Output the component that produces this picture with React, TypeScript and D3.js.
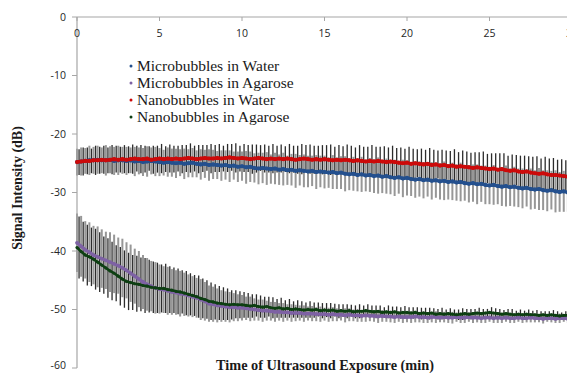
import React from 'react';
import * as d3 from 'd3';

// sampling clock: one reading every 0.25 min, 0..30 min
const STEP = 0.25;
const timeMin = d3.range(0, 30 + STEP / 2, STEP);

const xTicks = [0, 5, 10, 15, 20, 25, 30];
const yTicks = [0, -10, -20, -30, -40, -50, -60];

const seriesNames = [
  'Microbubbles in Water',
  'Microbubbles in Agarose',
  'Nanobubbles in Water',
  'Nanobubbles in Agarose',
];

const mbWater = [
  -24.8, -24.7, -24.6, -24.5, -24.5, -24.4, -24.5, -24.5, -24.4, -24.6, -24.5, -24.5,
  -24.6, -24.5, -24.7, -24.6, -24.8, -24.7, -24.6, -24.7, -24.8, -24.9, -24.8, -24.9,
  -25.0, -24.9, -25.1, -25.0, -24.9, -25.1, -25.2, -25.1, -25.3, -25.2, -25.3, -25.4,
  -25.3, -25.5, -25.4, -25.6, -25.5, -25.7, -25.6, -25.8, -25.9, -25.8, -25.9, -26.0,
  -25.9, -26.1, -26.0, -26.2, -26.1, -26.3, -26.2, -26.3, -26.4, -26.3, -26.5, -26.4,
  -26.5, -26.6, -26.5, -26.7, -26.6, -26.8, -26.9, -26.8, -27.0, -26.9, -27.1, -27.0,
  -27.2, -27.1, -27.3, -27.2, -27.4, -27.5, -27.4, -27.6, -27.5, -27.7, -27.8, -27.7,
  -27.9, -27.8, -28.0, -27.9, -28.1, -28.0, -28.2, -28.1, -28.3, -28.2, -28.4, -28.5,
  -28.4, -28.6, -28.5, -28.7, -28.8, -28.7, -28.9, -29.0, -28.9, -29.1, -29.0, -29.2,
  -29.3, -29.2, -29.4, -29.5, -29.4, -29.6, -29.7, -29.6, -29.8, -29.9, -29.8, -30.0,
  -30.1,
];
const mbWaterErr = [
  2.3, 2.4, 2.2, 2.5, 2.3, 2.4, 2.2, 2.6, 2.3, 2.4, 2.5, 2.3,
  2.4, 2.2, 2.5, 2.3, 2.4, 2.6, 2.3, 2.5, 2.4, 2.2, 2.5, 2.4,
  2.5, 2.3, 2.6, 2.4, 2.5, 2.3, 2.6, 2.4, 2.7, 2.5, 2.4, 2.6,
  2.5, 2.7, 2.4, 2.6, 2.5, 2.8, 2.6, 2.5, 2.7, 2.6, 2.8, 2.5,
  2.7, 2.6, 2.8, 2.5, 2.7, 2.9, 2.6, 2.8, 2.7, 2.6, 2.9, 2.7,
  2.8, 2.6, 2.9, 2.7, 2.8, 3.0, 2.7, 2.9, 2.8, 3.0, 2.7, 2.9,
  2.9, 3.1, 2.8, 3.0, 2.9, 3.1, 2.8, 3.2, 3.0, 2.9, 3.1, 3.0,
  3.1, 2.9, 3.2, 3.0, 3.1, 3.3, 3.0, 3.2, 3.1, 3.3, 3.0, 3.2,
  3.2, 3.4, 3.1, 3.3, 3.2, 3.4, 3.1, 3.3, 3.5, 3.2, 3.4, 3.3,
  3.4, 3.2, 3.5, 3.3, 3.6, 3.4, 3.5, 3.3, 3.6, 3.4, 3.5, 3.3,
  3.4,
];

const nbWater = [
  -24.8, -24.7, -24.6, -24.6, -24.5, -24.5, -24.4, -24.5, -24.4, -24.3, -24.4, -24.3,
  -24.4, -24.3, -24.2, -24.3, -24.3, -24.2, -24.4, -24.3, -24.2, -24.3, -24.2, -24.3,
  -24.2, -24.3, -24.2, -24.1, -24.2, -24.3, -24.2, -24.1, -24.2, -24.2, -24.1, -24.2,
  -24.1, -24.0, -24.1, -24.2, -24.1, -24.2, -24.3, -24.2, -24.1, -24.2, -24.3, -24.2,
  -24.3, -24.2, -24.3, -24.2, -24.3, -24.4, -24.3, -24.2, -24.3, -24.4, -24.3, -24.4,
  -24.3, -24.4, -24.5, -24.4, -24.5, -24.4, -24.5, -24.6, -24.5, -24.6, -24.7, -24.6,
  -24.7, -24.6, -24.7, -24.8, -24.7, -24.8, -24.9, -25.0, -24.9, -25.1, -25.0, -25.1,
  -25.2, -25.1, -25.3, -25.2, -25.4, -25.3, -25.5, -25.4, -25.6, -25.5, -25.6, -25.7,
  -25.8, -25.7, -25.8, -25.9, -26.0, -25.9, -26.1, -26.0, -26.2, -26.3, -26.2, -26.4,
  -26.5, -26.4, -26.6, -26.7, -26.8, -26.7, -26.9, -27.0, -27.0, -27.1, -27.2, -27.3,
  -27.4,
];
const nbWaterErr = [
  2.2, 2.4, 2.3, 2.1, 2.5, 2.3, 2.4, 2.2, 2.5, 2.3, 2.2, 2.4,
  2.3, 2.5, 2.2, 2.4, 2.3, 2.1, 2.4, 2.3, 2.5, 2.2, 2.4, 2.3,
  2.2, 2.4, 2.3, 2.5, 2.2, 2.4, 2.3, 2.2, 2.5, 2.3, 2.4, 2.2,
  2.4, 2.3, 2.5, 2.2, 2.4, 2.3, 2.5, 2.4, 2.2, 2.4, 2.3, 2.5,
  2.3, 2.4, 2.2, 2.5, 2.3, 2.4, 2.6, 2.3, 2.5, 2.4, 2.3, 2.5,
  2.4, 2.6, 2.3, 2.5, 2.4, 2.6, 2.5, 2.3, 2.6, 2.4, 2.5, 2.7,
  2.5, 2.4, 2.6, 2.5, 2.7, 2.4, 2.6, 2.5, 2.7, 2.6, 2.4, 2.6,
  2.5, 2.7, 2.6, 2.4, 2.7, 2.5, 2.6, 2.8, 2.5, 2.7, 2.6, 2.5,
  2.7, 2.6, 2.8, 2.5, 2.7, 2.6, 2.8, 2.7, 2.5, 2.8, 2.6, 2.7,
  2.8, 2.6, 2.7, 2.9, 2.6, 2.8, 2.7, 2.9, 2.6, 2.8, 2.7, 2.9,
  2.8,
];

const mbAgarose = [
  -38.6, -39.2, -39.8, -40.2, -40.7, -41.0, -41.3, -41.6, -41.9, -42.2, -42.5, -42.9,
  -43.3, -43.8, -44.3, -44.8, -45.3, -45.7, -46.0, -46.3, -46.5, -46.6, -46.8, -47.0,
  -47.1, -47.3, -47.4, -47.6, -47.8, -48.0, -48.3, -48.6, -49.0, -49.1, -49.3, -49.4,
  -49.5, -49.6, -49.6, -49.7, -49.7, -49.8, -49.9, -50.0, -50.1, -50.2, -50.2, -50.3,
  -50.4, -50.4, -50.5, -50.5, -50.6, -50.6, -50.6, -50.7, -50.7, -50.7, -50.8, -50.8,
  -50.8, -50.9, -50.8, -50.9, -50.9, -51.0, -50.9, -51.0, -51.0, -51.1, -51.0, -51.1,
  -51.1, -51.2, -51.1, -51.2, -51.2, -51.3, -51.2, -51.3, -51.3, -51.3, -51.2, -51.3,
  -51.3, -51.4, -51.3, -51.3, -51.4, -51.3, -51.4, -51.4, -51.3, -51.4, -51.4, -51.3,
  -51.4, -51.4, -51.5, -51.4, -51.4, -51.5, -51.4, -51.5, -51.4, -51.5, -51.5, -51.4,
  -51.5, -51.5, -51.4, -51.5, -51.5, -51.6, -51.5, -51.5, -51.6, -51.5, -51.5, -51.6,
  -51.5,
];
const mbAgaroseErr = [
  5.0, 5.2, 4.9, 5.1, 5.0, 5.2, 5.0, 4.9, 5.1, 5.0, 4.8, 5.0,
  4.8, 4.9, 4.7, 4.8, 4.6, 4.5, 4.3, 4.4, 4.2, 4.0, 4.1, 3.9,
  3.8, 3.9, 3.7, 3.6, 3.5, 3.4, 3.5, 3.3, 3.1, 3.0, 2.9, 2.7,
  2.6, 2.6, 2.4, 2.3, 2.2, 2.0, 2.1, 1.9, 1.8, 1.9, 1.7, 1.6,
  1.7, 1.5, 1.6, 1.4, 1.5, 1.4, 1.3, 1.4, 1.2, 1.3, 1.2, 1.3,
  1.1, 1.2, 1.2, 1.1, 1.0, 1.2, 1.1, 1.0, 1.1, 1.0, 1.1, 0.9,
  1.0, 1.1, 1.0, 0.9, 1.0, 1.0, 0.9, 1.0, 0.9, 1.0, 1.0, 0.9,
  1.0, 0.9, 0.9, 1.0, 0.8, 0.9, 0.9, 1.0, 0.8, 0.9, 0.9, 0.8,
  0.9, 0.8, 0.8, 0.9, 0.7, 0.8, 0.9, 0.8, 0.7, 0.8, 0.8, 0.7,
  0.8, 0.7, 0.8, 0.7, 0.7, 0.8, 0.6, 0.7, 0.7, 0.8, 0.6, 0.7,
  0.7,
];

const nbAgarose = [
  -39.4, -40.1, -40.7, -41.0, -41.4, -41.9, -42.4, -42.9, -43.4, -43.8, -44.3, -44.8,
  -45.2, -45.4, -45.6, -45.7, -45.9, -46.0, -46.2, -46.3, -46.4, -46.4, -46.6, -46.7,
  -46.9, -47.0, -47.2, -47.4, -47.6, -47.8, -48.1, -48.3, -48.6, -48.7, -48.9, -49.0,
  -49.1, -49.2, -49.1, -49.2, -49.2, -49.3, -49.4, -49.3, -49.5, -49.6, -49.5, -49.7,
  -49.8, -49.7, -49.9, -49.8, -50.0, -49.9, -50.0, -50.1, -50.0, -50.1, -50.0, -50.2,
  -50.1, -50.2, -50.1, -50.3, -50.2, -50.3, -50.2, -50.4, -50.3, -50.3, -50.2, -50.3,
  -50.4, -50.3, -50.5, -50.4, -50.5, -50.4, -50.6, -50.5, -50.5, -50.6, -50.5, -50.7,
  -50.6, -50.7, -50.6, -50.8, -50.7, -50.8, -50.7, -50.8, -50.9, -50.8, -50.7, -50.8,
  -50.7, -50.6, -50.7, -50.6, -50.5, -50.6, -50.7, -50.8, -50.7, -50.8, -50.9, -50.8,
  -50.9, -50.8, -50.9, -50.9, -51.0, -50.9, -51.0, -50.9, -51.0, -51.1, -51.0, -51.0,
  -51.0,
];
const nbAgaroseErr = [
  5.3, 5.1, 5.2, 5.0, 5.2, 5.1, 4.9, 5.1, 5.0, 4.8, 5.0, 4.9,
  4.9, 4.7, 4.8, 4.6, 4.7, 4.5, 4.4, 4.3, 4.1, 4.2, 4.0, 3.9,
  3.9, 3.7, 3.8, 3.6, 3.5, 3.6, 3.4, 3.3, 3.2, 3.0, 2.9, 2.8,
  2.7, 2.5, 2.4, 2.3, 2.2, 2.1, 2.0, 1.9, 1.9, 1.8, 1.7, 1.8,
  1.6, 1.7, 1.5, 1.6, 1.4, 1.5, 1.4, 1.3, 1.4, 1.3, 1.2, 1.3,
  1.2, 1.3, 1.1, 1.2, 1.1, 1.2, 1.0, 1.1, 1.2, 1.0, 1.1, 1.0,
  1.1, 1.0, 0.9, 1.1, 1.0, 0.9, 1.0, 1.1, 0.9, 1.0, 0.9, 1.0,
  0.9, 1.0, 0.8, 0.9, 1.0, 0.8, 0.9, 0.8, 0.9, 1.0, 0.8, 0.9,
  0.8, 0.9, 0.8, 0.7, 0.9, 0.8, 0.8, 0.7, 0.8, 0.9, 0.7, 0.8,
  0.7, 0.8, 0.7, 0.8, 0.7, 0.6, 0.7, 0.8, 0.7, 0.6, 0.7, 0.7,
  0.7,
];

const W = 567;
const H = 373;

type Series = {
  name: string;
  values: number[];
  err: number[];
  color: string;
  barColor: string;
  barWidth: number;
  shift: number; // bar offset in half-steps, keeps the two bar sets apart
  lineWidth: number;
};

const series: Series[] = [
  { name: seriesNames[0], values: mbWater, err: mbWaterErr, color: '#24508e', barColor: '#8c8c8c', barWidth: 2, shift: 0, lineWidth: 3.5 },
  { name: seriesNames[2], values: nbWater, err: nbWaterErr, color: '#cc0a0a', barColor: '#161616', barWidth: 1.3, shift: 1, lineWidth: 3.5 },
  { name: seriesNames[1], values: mbAgarose, err: mbAgaroseErr, color: '#7e62a4', barColor: '#8c8c8c', barWidth: 2, shift: 0, lineWidth: 3.2 },
  { name: seriesNames[3], values: nbAgarose, err: nbAgaroseErr, color: '#0d3f12', barColor: '#161616', barWidth: 1.3, shift: 1, lineWidth: 2.6 },
];

const legendColors = ['#24508e', '#7e62a4', '#cc0a0a', '#0d3f12'];

export default function App() {
  const x = d3.scaleLinear().domain([0, 30]).range([77, 572]);
  const y = d3.scaleLinear().domain([-60, 0]).range([368, 17]);
  const half = (x(STEP) - x(0)) / 2;

  const line = d3
    .line<number>()
    .x((_, i) => x(timeMin[i]))
    .y((d) => y(d));

  return (
    <svg
      width={W}
      height={H}
      style={{ position: 'absolute', left: 0, top: 0, background: '#fff' }}
    >
      {/* error bars below the means */}
      {series.map((s) => (
        <g key={s.name + '-err'} stroke={s.barColor} strokeWidth={s.barWidth} opacity={0.9}>
          {s.values.map((v, i) => {
            const cx = x(timeMin[i]) + s.shift * half;
            return (
              <line
                key={i}
                x1={cx}
                x2={cx}
                y1={y(v + s.err[i])}
                y2={y(v - s.err[i])}
              />
            );
          })}
        </g>
      ))}

      {/* axes */}
      <g>
        <line x1={x(0)} x2={x(0)} y1={y(0)} y2={y(-60)} stroke="#a6a6a6" strokeWidth={1.2} />
        {yTicks.map((t) => (
          <g key={t}>
            <line x1={x(0) - 5} x2={x(0)} y1={y(t)} y2={y(t)} stroke="#a6a6a6" />
            <text
              x={x(0) - 11}
              y={Math.min(y(t), 365)}
              dy="0.35em"
              textAnchor="end"
              fontFamily="'Open Sans', sans-serif"
              fontSize={10.5}
              fill="#262626"
            >
              {t}
            </text>
          </g>
        ))}
        <line x1={x(0)} x2={W} y1={y(0)} y2={y(0)} stroke="#a6a6a6" strokeWidth={1.2} />
        {xTicks.map((t) => (
          <g key={t}>
            <line x1={x(t)} x2={x(t)} y1={y(0)} y2={y(0) + 4} stroke="#a6a6a6" />
            <text
              x={x(t)}
              y={37}
              textAnchor="middle"
              fontFamily="'Open Sans', sans-serif"
              fontSize={10.5}
              fill="#262626"
            >
              {t}
            </text>
          </g>
        ))}
      </g>

      {/* means */}
      {series.map((s) => (
        <g key={s.name}>
          <path d={line(s.values) || ''} fill="none" stroke={s.color} strokeWidth={s.lineWidth} strokeLinejoin="round" />
          {s.values.map((v, i) => (
            <circle key={i} cx={x(timeMin[i])} cy={y(v)} r={s.lineWidth / 2 + 0.3} fill={s.color} />
          ))}
        </g>
      ))}

      {/* legend */}
      <g fontFamily="'Liberation Serif', 'Times New Roman', serif" fontSize={15.5} fill="#1a1a1a">
        {seriesNames.map((n, i) => (
          <g key={n} transform={`translate(131, ${66 + i * 17})`}>
            <circle cx={0} cy={0} r={1.5} fill={legendColors[i]} />
            <text x={6} y={0} dy="0.33em">
              {n}
            </text>
          </g>
        ))}
      </g>

      {/* axis titles */}
      <text
        x={325}
        y={370}
        textAnchor="middle"
        fontFamily="'Liberation Serif', 'Times New Roman', serif"
        fontWeight="bold"
        fontSize={14.3}
        fill="#1a1a1a"
      >
        Time of Ultrasound Exposure (min)
      </text>
      <text
        transform="translate(22, 188) rotate(-90)"
        textAnchor="middle"
        fontFamily="'Liberation Serif', 'Times New Roman', serif"
        fontWeight="bold"
        fontSize={14}
        fill="#1a1a1a"
      >
        Signal Intensity (dB)
      </text>
    </svg>
  );
}
